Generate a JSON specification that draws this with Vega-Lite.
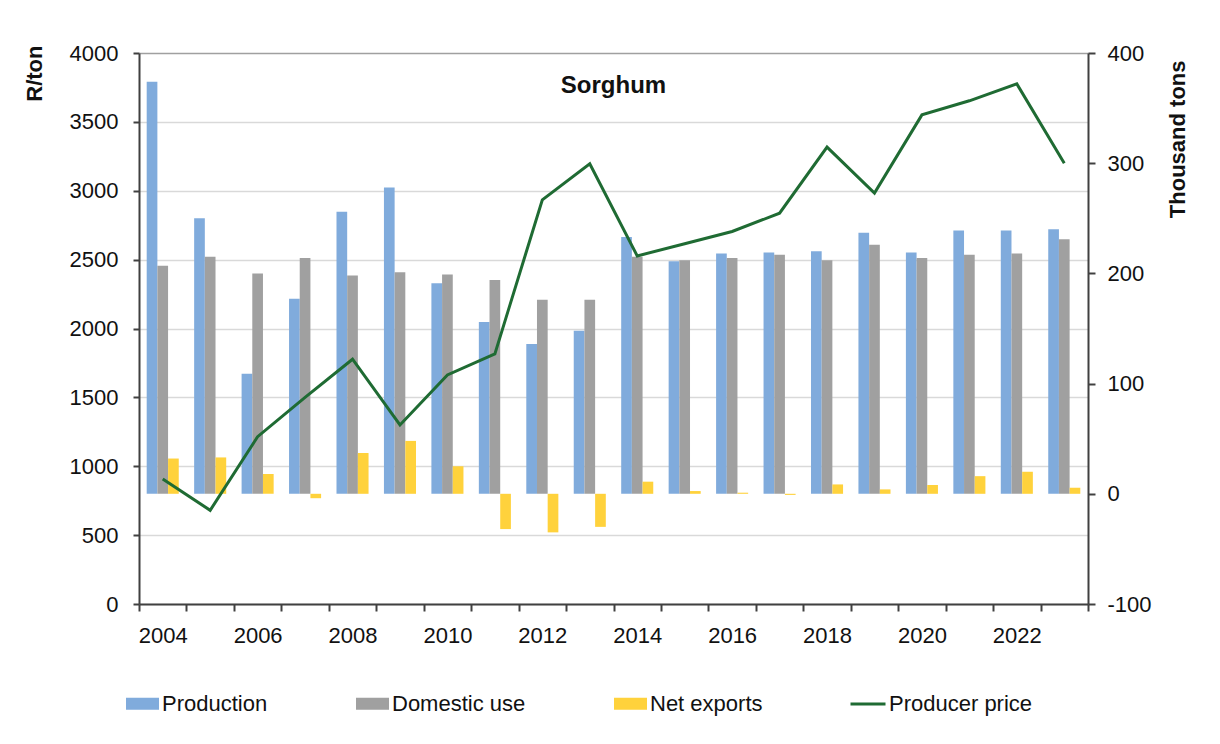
{
  "$schema": "https://vega.github.io/schema/vega-lite/v6.json",
  "width": 949,
  "height": 551,
  "autosize": {"type": "none"},
  "padding": {"left": 139, "top": 53, "right": 132, "bottom": 140},
  "background": "white",
  "config": {
    "font": "Liberation Sans",
    "view": {"stroke": null},
    "axis": {"labelColor": "#111111", "titleColor": "#111111", "labelFont": "Liberation Sans", "titleFont": "Liberation Sans"},
    "legend": {"labelFont": "Liberation Sans", "labelColor": "#111111"}
  },
  "datasets": {
    "bars": [
      {"year": "2004", "series": "Production", "value": 374},
      {"year": "2005", "series": "Production", "value": 250},
      {"year": "2006", "series": "Production", "value": 109},
      {"year": "2007", "series": "Production", "value": 177},
      {"year": "2008", "series": "Production", "value": 256},
      {"year": "2009", "series": "Production", "value": 278},
      {"year": "2010", "series": "Production", "value": 191},
      {"year": "2011", "series": "Production", "value": 156},
      {"year": "2012", "series": "Production", "value": 136},
      {"year": "2013", "series": "Production", "value": 148},
      {"year": "2014", "series": "Production", "value": 233},
      {"year": "2015", "series": "Production", "value": 211},
      {"year": "2016", "series": "Production", "value": 218},
      {"year": "2017", "series": "Production", "value": 219},
      {"year": "2018", "series": "Production", "value": 220},
      {"year": "2019", "series": "Production", "value": 237},
      {"year": "2020", "series": "Production", "value": 219},
      {"year": "2021", "series": "Production", "value": 239},
      {"year": "2022", "series": "Production", "value": 239},
      {"year": "2023", "series": "Production", "value": 240},
      {"year": "2004", "series": "Domestic use", "value": 207},
      {"year": "2005", "series": "Domestic use", "value": 215},
      {"year": "2006", "series": "Domestic use", "value": 200},
      {"year": "2007", "series": "Domestic use", "value": 214},
      {"year": "2008", "series": "Domestic use", "value": 198},
      {"year": "2009", "series": "Domestic use", "value": 201},
      {"year": "2010", "series": "Domestic use", "value": 199},
      {"year": "2011", "series": "Domestic use", "value": 194},
      {"year": "2012", "series": "Domestic use", "value": 176},
      {"year": "2013", "series": "Domestic use", "value": 176},
      {"year": "2014", "series": "Domestic use", "value": 215},
      {"year": "2015", "series": "Domestic use", "value": 212},
      {"year": "2016", "series": "Domestic use", "value": 214},
      {"year": "2017", "series": "Domestic use", "value": 217},
      {"year": "2018", "series": "Domestic use", "value": 212},
      {"year": "2019", "series": "Domestic use", "value": 226},
      {"year": "2020", "series": "Domestic use", "value": 214},
      {"year": "2021", "series": "Domestic use", "value": 217},
      {"year": "2022", "series": "Domestic use", "value": 218},
      {"year": "2023", "series": "Domestic use", "value": 231},
      {"year": "2004", "series": "Net exports", "value": 32},
      {"year": "2005", "series": "Net exports", "value": 33},
      {"year": "2006", "series": "Net exports", "value": 18},
      {"year": "2007", "series": "Net exports", "value": -4},
      {"year": "2008", "series": "Net exports", "value": 37},
      {"year": "2009", "series": "Net exports", "value": 48},
      {"year": "2010", "series": "Net exports", "value": 25},
      {"year": "2011", "series": "Net exports", "value": -32},
      {"year": "2012", "series": "Net exports", "value": -35},
      {"year": "2013", "series": "Net exports", "value": -30},
      {"year": "2014", "series": "Net exports", "value": 11},
      {"year": "2015", "series": "Net exports", "value": 2.5},
      {"year": "2016", "series": "Net exports", "value": 1},
      {"year": "2017", "series": "Net exports", "value": -1},
      {"year": "2018", "series": "Net exports", "value": 8.5},
      {"year": "2019", "series": "Net exports", "value": 4},
      {"year": "2020", "series": "Net exports", "value": 8},
      {"year": "2021", "series": "Net exports", "value": 16},
      {"year": "2022", "series": "Net exports", "value": 20},
      {"year": "2023", "series": "Net exports", "value": 5.5}
    ],
    "price": [
      {"year": "2004", "price": 908},
      {"year": "2005", "price": 680},
      {"year": "2006", "price": 1215},
      {"year": "2007", "price": 1500},
      {"year": "2008", "price": 1777},
      {"year": "2009", "price": 1300},
      {"year": "2010", "price": 1663},
      {"year": "2011", "price": 1816},
      {"year": "2012", "price": 2934},
      {"year": "2013", "price": 3195},
      {"year": "2014", "price": 2527},
      {"year": "2015", "price": 2615},
      {"year": "2016", "price": 2704},
      {"year": "2017", "price": 2837},
      {"year": "2018", "price": 3317},
      {"year": "2019", "price": 2983},
      {"year": "2020", "price": 3551},
      {"year": "2021", "price": 3653},
      {"year": "2022", "price": 3776},
      {"year": "2023", "price": 3200}
    ],
    "titles": [
      {"year": "2014", "price": 3710, "label": "Sorghum"}
    ]
  },
  "layer": [
    {
      "data": {"name": "bars"},
      "mark": {"type": "bar"},
      "encoding": {
        "x": {
          "field": "year",
          "type": "ordinal",
          "scale": {"paddingInner": 0, "paddingOuter": 0},
          "axis": {
            "title": null,
            "tickBand": "extent",
            "labelExpr": "toNumber(datum.label) % 2 === 0 ? datum.label : ''",
            "labelAngle": 0,
            "labelFontSize": 22,
            "labelPadding": 14,
            "tickSize": 7,
            "tickColor": "#404040",
            "tickWidth": 2,
            "domainColor": "#404040",
            "domainWidth": 2,
            "grid": false
          }
        },
        "xOffset": {
          "field": "series",
          "type": "nominal",
          "sort": ["Production", "Domestic use", "Net exports"],
          "scale": {"paddingInner": 0, "paddingOuter": 0.72}
        },
        "y": {
          "field": "value",
          "type": "quantitative",
          "scale": {"domain": [-100, 400], "nice": false, "zero": false},
          "axis": {
            "orient": "right",
            "values": [-100, 0, 100, 200, 300, 400],
            "labelExpr": "'' + datum.value",
            "grid": false,
            "title": "Thousand tons",
            "titleFontSize": 22,
            "titleFontWeight": "bold",
            "titleAngle": -90,
            "titleAlign": "right",
            "titleBaseline": "alphabetic",
            "titleX": 96,
            "titleY": 7,
            "labelFontSize": 22,
            "labelPadding": 12,
            "tickSize": 7,
            "tickColor": "#404040",
            "tickWidth": 2,
            "domainColor": "#404040",
            "domainWidth": 2
          }
        },
        "fill": {
          "field": "series",
          "type": "nominal",
          "sort": ["Production", "Domestic use", "Net exports"],
          "scale": {"domain": ["Production", "Domestic use", "Net exports"], "range": ["#80ABDC", "#A0A0A0", "#FFD23C"]},
          "legend": {
            "orient": "none",
            "legendX": -13,
            "legendY": 634,
            "direction": "horizontal",
            "columns": 3,
            "title": null,
            "symbolType": "M-1,-0.36H1V0.36H-1Z",
            "symbolSize": 1089,
            "symbolStrokeWidth": 0,
            "labelFontSize": 22,
            "labelOffset": 3,
            "columnPadding": 88
          }
        }
      }
    },
    {
      "layer": [
        {
          "data": {"name": "price"},
          "mark": {"type": "line", "strokeWidth": 3},
          "encoding": {
            "x": {"field": "year", "type": "ordinal"},
            "y": {
              "field": "price",
              "type": "quantitative",
              "scale": {"domain": [0, 4000], "nice": false},
              "axis": {
                "orient": "left",
                "values": [0, 500, 1000, 1500, 2000, 2500, 3000, 3500, 4000],
                "labelExpr": "'' + datum.value",
                "grid": true,
                "gridColor": {"condition": {"test": "datum.value === 4000", "value": "#a0a0a0"}, "value": "#d9d9d9"},
                "gridWidth": 1.5,
                "title": "R/ton",
                "titleFontSize": 22,
                "titleFontWeight": "bold",
                "titleAngle": -90,
                "titleAlign": "right",
                "titleBaseline": "alphabetic",
                "titleX": -98,
                "titleY": -8,
                "labelFontSize": 22,
                "labelPadding": 15,
                "tickSize": 6,
                "tickColor": "#404040",
                "tickWidth": 2,
                "domainColor": "#404040",
                "domainWidth": 2
              }
            },
            "stroke": {
              "datum": "Producer price",
              "type": "nominal",
              "scale": {"domain": ["Producer price"], "range": ["#1F6B33"]},
              "legend": {
                "orient": "none",
                "legendX": 710,
                "legendY": 632,
                "title": null,
                "symbolType": "stroke",
                "symbolSize": 1225,
                "symbolStrokeWidth": 3,
                "labelFontSize": 22,
                "labelOffset": 2
              }
            }
          }
        },
        {
          "data": {"name": "titles"},
          "mark": {"type": "text", "fontSize": 24, "fontWeight": "bold", "align": "center", "baseline": "alphabetic", "color": "#111111"},
          "encoding": {
            "x": {"field": "year", "type": "ordinal", "bandPosition": 0},
            "y": {"field": "price", "type": "quantitative"},
            "text": {"field": "label"}
          }
        }
      ]
    }
  ],
  "resolve": {"scale": {"y": "independent"}}
}
